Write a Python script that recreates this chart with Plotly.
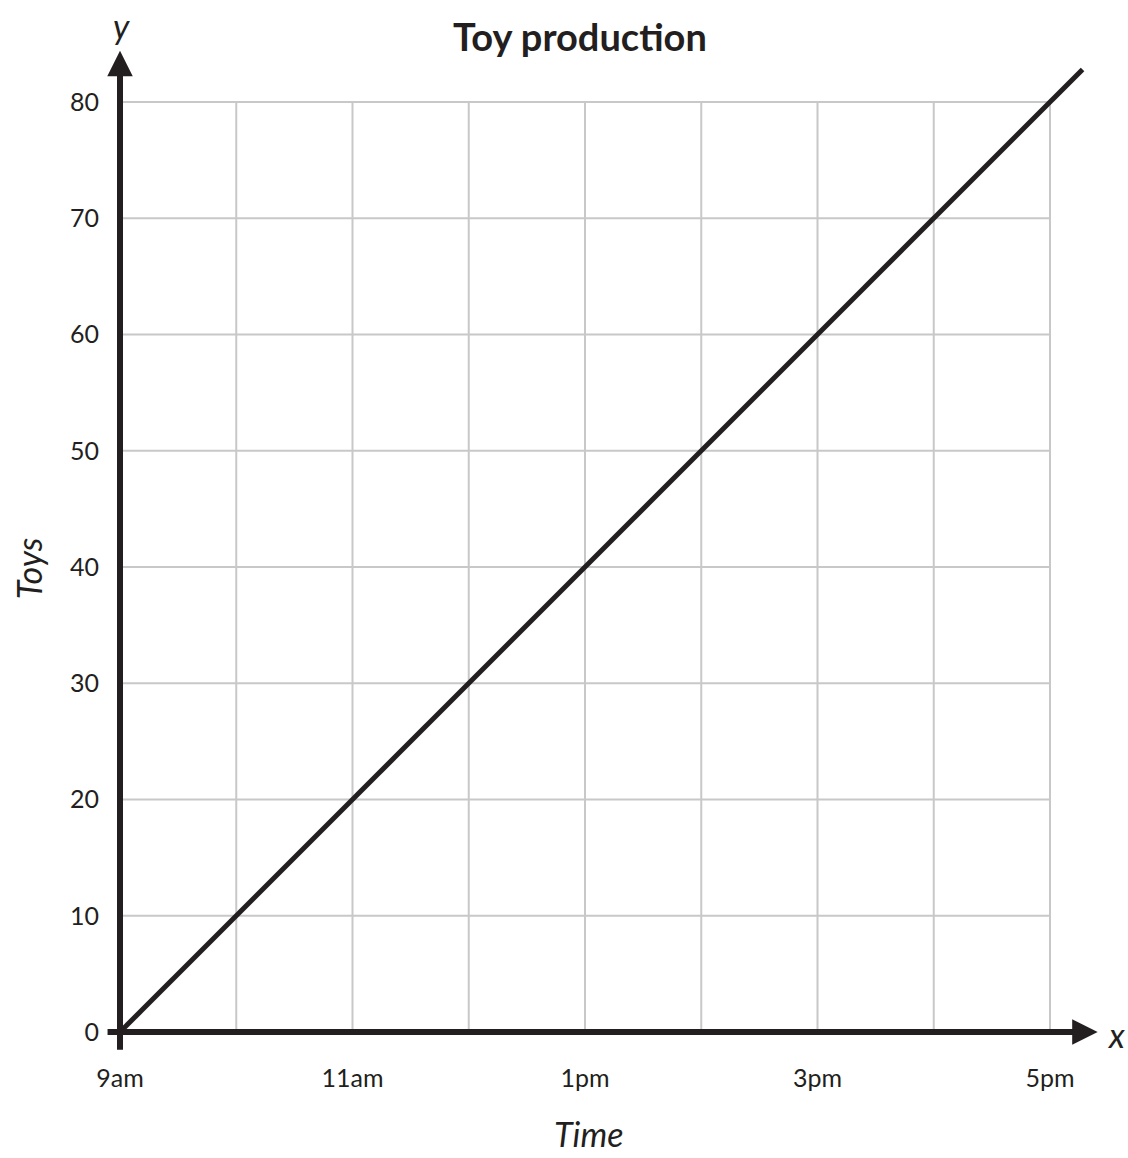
import plotly.graph_objects as go

# ---- data ----
hours = [0, 8.28]                      # hours after 9am
toys = [0, 82.8]                       # toys produced
x_grid = [0, 1, 2, 3, 4, 5, 6, 7, 8]   # hour gridlines
y_grid = [0, 10, 20, 30, 40, 50, 60, 70, 80]
x_tickvals = [0, 2, 4, 6, 8]
x_ticktext = ["9am", "11am", "1pm", "3pm", "5pm"]
y_tickvals = [0, 10, 20, 30, 40, 50, 60, 70, 80]
y_ticktext = ["0", "10", "20", "30", "40", "50", "60", "70", "80"]

INK = "#231f20"
GRID = "#c8c8c8"
FONT = "Lato"

fig = go.Figure()

# gridlines (from grid arrays)
gx, gy = [], []
for v in x_grid[1:]:
    gx += [v, v, None]
    gy += [y_grid[0], y_grid[-1], None]
for v in y_grid[1:]:
    gx += [x_grid[0], x_grid[-1], None]
    gy += [v, v, None]
fig.add_trace(go.Scatter(x=gx, y=gy, mode="lines", line=dict(color=GRID, width=2),
                         hoverinfo="skip", showlegend=False))

# data line
fig.add_trace(go.Scatter(x=hours, y=toys, mode="lines", line=dict(color=INK, width=5),
                         showlegend=False))

# axes with arrows
fig.add_annotation(x=0, y=84.4, ax=0, ay=-1.65, xref="x", yref="y", axref="x", ayref="y",
                   text="", showarrow=True, arrowhead=2, arrowsize=0.85, arrowwidth=6,
                   arrowcolor=INK)
fig.add_annotation(x=8.41, y=0, ax=-0.12, ay=0, xref="x", yref="y", axref="x", ayref="y",
                   text="", showarrow=True, arrowhead=2, arrowsize=0.85, arrowwidth=6,
                   arrowcolor=INK)

# axis letters
fig.add_annotation(x=0.017, y=1.0148, xref="paper", yref="paper", text="<i>y</i>",
                   showarrow=False, xanchor="center", yanchor="middle",
                   font=dict(family=FONT, size=34, color=INK))
fig.add_annotation(x=1.012, y=0.0168, xref="paper", yref="paper", text="<i>x</i>",
                   showarrow=False, xanchor="center", yanchor="middle",
                   font=dict(family=FONT, size=34, color=INK))

# axis titles
fig.add_annotation(x=0.484, y=-0.081, xref="paper", yref="paper", text="<i>Time</i>",
                   showarrow=False, xanchor="center", yanchor="middle",
                   font=dict(family=FONT, size=34, color=INK))
fig.add_annotation(x=-0.076, y=0.478, xref="paper", yref="paper", text="<i>Toys</i>",
                   showarrow=False, xanchor="center", yanchor="middle", textangle=-90,
                   font=dict(family=FONT, size=34, color=INK))

fig.update_layout(
    width=1128, height=1158,
    margin=dict(l=104, r=24, t=40, b=106),
    paper_bgcolor="white", plot_bgcolor="white",
    title=dict(text="<b>Toy production</b>", x=0.476, xref="paper", xanchor="center",
               y=1 - 38 / 1158, yanchor="middle",
               font=dict(family=FONT, size=38, color=INK, weight=900)),
    font=dict(family=FONT, size=25, color=INK),
    xaxis=dict(range=[-0.1376, 8.4645], showgrid=False, zeroline=False, showline=False,
               tickvals=x_tickvals, ticktext=x_ticktext, ticks="", ticklabelstandoff=9,
               fixedrange=True),
    yaxis=dict(range=[-1.7204, 85.333], showgrid=False, zeroline=False, showline=False,
               tickvals=y_tickvals, ticktext=y_ticktext, ticks="", ticklabelstandoff=4,
               fixedrange=True),
)

fig.write_html("out.html", config={"displayModeBar": False},
               post_script="document.body.style.margin='0px';document.body.style.overflow='hidden';")
